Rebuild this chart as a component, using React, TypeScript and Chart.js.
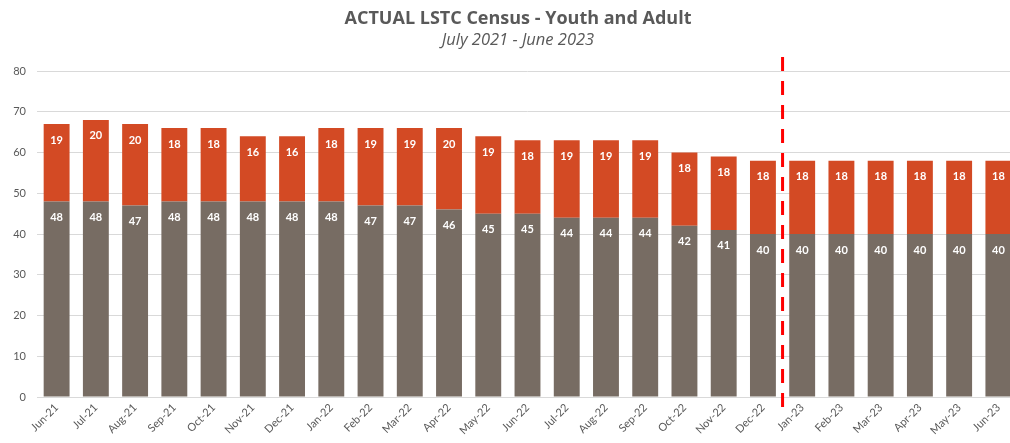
import React, { useEffect, useRef } from 'react';
import { Chart, registerables } from 'chart.js';

Chart.register(...registerables);

const categories = [
  'Jun-21', 'Jul-21', 'Aug-21', 'Sep-21', 'Oct-21', 'Nov-21', 'Dec-21',
  'Jan-22', 'Feb-22', 'Mar-22', 'Apr-22', 'May-22', 'Jun-22', 'Jul-22',
  'Aug-22', 'Sep-22', 'Oct-22', 'Nov-22', 'Dec-22', 'Jan-23', 'Feb-23',
  'Mar-23', 'Apr-23', 'May-23', 'Jun-23',
];

const adultValues = [48, 48, 47, 48, 48, 48, 48, 48, 47, 47, 46, 45, 45, 44, 44, 44, 42, 41, 40, 40, 40, 40, 40, 40, 40];
const youthValues = [19, 20, 20, 18, 18, 16, 16, 18, 19, 19, 20, 19, 18, 19, 19, 19, 18, 18, 18, 18, 18, 18, 18, 18, 18];

const yTickMin = 0;
const yTickMax = 80;
const yTickStep = 10;

const dividerAfterCategory = 'Dec-22';

const titleText = 'ACTUAL LSTC Census - Youth and Adult';
const subtitleText = 'July 2021 - June 2023';

const FONT = 'Lato, "Open Sans", sans-serif';
const TITLE_FONT = '"Open Sans", Lato, sans-serif';
const TEXT_COLOR = '#595959';
const GRID_COLOR = '#D9D9D9';
const GRAY = '#776C63';
const ORANGE = '#D34A24';

const segmentLabelPlugin = {
  id: 'segmentLabels',
  afterDatasetsDraw(chart: any) {
    const ctx = chart.ctx;
    ctx.save();
    ctx.fillStyle = '#FFFFFF';
    ctx.font = `bold 11px ${FONT}`;
    ctx.textAlign = 'center';
    ctx.textBaseline = 'middle';
    chart.data.datasets.forEach((ds: any, di: number) => {
      const meta = chart.getDatasetMeta(di);
      meta.data.forEach((bar: any, i: number) => {
        ctx.fillText(String(ds.data[i]), bar.x, bar.y + 16);
      });
    });
    ctx.restore();
  },
};

const dividerPlugin = {
  id: 'divider',
  afterDraw(chart: any) {
    const xScale = chart.scales.x;
    const idx = categories.indexOf(dividerAfterCategory);
    const x = (xScale.getPixelForValue(idx) + xScale.getPixelForValue(idx + 1)) / 2;
    const { top, bottom } = chart.chartArea;
    const ctx = chart.ctx;
    ctx.save();
    ctx.strokeStyle = '#FF0000';
    ctx.lineWidth = 3;
    ctx.setLineDash([14, 10]);
    ctx.beginPath();
    ctx.moveTo(x, top - 14);
    ctx.lineTo(x, bottom + 20);
    ctx.stroke();
    ctx.restore();
  },
};

export default function App() {
  const canvasRef = useRef<HTMLCanvasElement | null>(null);

  useEffect(() => {
    document.body.style.margin = '0';
    document.body.style.overflow = 'hidden';
    const canvas = canvasRef.current;
    if (!canvas) return;
    const chart = new Chart(canvas, {
      type: 'bar',
      data: {
        labels: categories,
        datasets: [
          {
            label: 'Adult',
            data: adultValues,
            backgroundColor: GRAY,
            barPercentage: 0.66,
            categoryPercentage: 1,
          },
          {
            label: 'Youth',
            data: youthValues,
            backgroundColor: ORANGE,
            barPercentage: 0.66,
            categoryPercentage: 1,
          },
        ],
      },
      options: {
        responsive: false,
        animation: false,
        devicePixelRatio: 1,
        layout: { padding: 0 },
        plugins: {
          legend: { display: false },
          tooltip: { enabled: false },
          title: {
            display: true,
            text: titleText,
            color: TEXT_COLOR,
            font: { family: TITLE_FONT, size: 18, weight: 'bold' },
            padding: { top: 8, bottom: 0 },
          },
          subtitle: {
            display: true,
            text: subtitleText,
            color: TEXT_COLOR,
            font: { family: TITLE_FONT, size: 16.5, style: 'italic' },
            padding: { top: 0.5, bottom: 21.1 },
          },
        },
        scales: {
          x: {
            stacked: true,
            grid: { display: false, drawTicks: false },
            border: { display: true, color: GRID_COLOR },
            ticks: {
              color: TEXT_COLOR,
              font: { family: FONT, size: 11 },
              minRotation: 45,
              maxRotation: 45,
              autoSkip: false,
              padding: 4,
            },
            afterFit(scale: any) {
              scale.height = 46;
            },
          },
          y: {
            stacked: true,
            min: yTickMin,
            max: yTickMax,
            grid: { color: GRID_COLOR, drawTicks: false },
            border: { display: false },
            ticks: {
              stepSize: yTickStep,
              color: TEXT_COLOR,
              font: { family: FONT, size: 11 },
              padding: 11,
            },
            afterFit(scale: any) {
              scale.width = 37;
            },
          },
          yRightSpace: {
            type: 'linear',
            position: 'right',
            display: true,
            grid: { display: false, drawTicks: false },
            border: { display: false },
            ticks: { display: false },
            afterFit(scale: any) {
              scale.width = 18;
            },
          },
        },
      },
      plugins: [segmentLabelPlugin, dividerPlugin],
    });
    return () => chart.destroy();
  }, []);

  return (
    <div style={{ width: 1010, height: 443, overflow: 'hidden', position: 'relative' }}>
      <canvas ref={canvasRef} width={1036} height={443} style={{ display: 'block' }} />
    </div>
  );
}
